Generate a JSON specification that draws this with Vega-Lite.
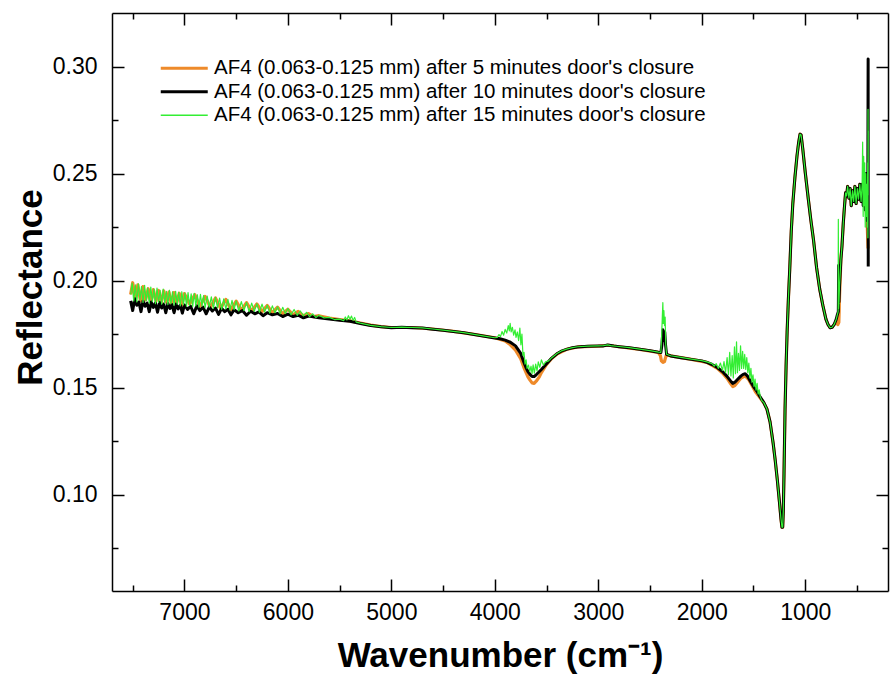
{
"$schema":"https://vega.github.io/schema/vega-lite/v6.json",
"width":776,"height":578,
"autosize":{"type":"none"},
"padding":{"left":112,"top":13,"right":2,"bottom":85},
"background":"white",
"config":{"font":"Liberation Sans","view":{"stroke":null},
"axis":{"grid":false,"domainColor":"black","domainWidth":1.5,"tickColor":"black","tickWidth":1.5,"labelFont":"Liberation Sans","labelFontSize":23,"labelColor":"black","titleFont":"Liberation Sans","titleFontSize":35,"titleFontWeight":"bold","titleColor":"black"}},
"data":{"values":[
{"s":"o","w":7520,"r":0.1935},{"s":"o","w":7500,"r":0.1990},{"s":"o","w":7475,"r":0.1915},{"s":"o","w":7450,"r":0.1980},{"s":"o","w":7425,"r":0.1905},{"s":"o","w":7400,"r":0.1972},{"s":"o","w":7375,"r":0.1910},{"s":"o","w":7350,"r":0.1962},{"s":"o","w":7325,"r":0.1900},{"s":"o","w":7300,"r":0.1958},{"s":"o","w":7275,"r":0.1905},{"s":"o","w":7250,"r":0.1954},{"s":"o","w":7225,"r":0.1895},{"s":"o","w":7200,"r":0.1952},{"s":"o","w":7175,"r":0.1900},{"s":"o","w":7150,"r":0.1946},{"s":"o","w":7125,"r":0.1890},{"s":"o","w":7100,"r":0.1944},{"s":"o","w":7075,"r":0.1895},{"s":"o","w":7050,"r":0.1941},{"s":"o","w":7025,"r":0.1885},{"s":"o","w":7000,"r":0.1939},{"s":"o","w":6950,"r":0.1890},{"s":"o","w":6900,"r":0.1934},{"s":"o","w":6850,"r":0.1880},{"s":"o","w":6800,"r":0.1926},{"s":"o","w":6750,"r":0.1875},{"s":"o","w":6700,"r":0.1919},{"s":"o","w":6650,"r":0.1870},{"s":"o","w":6600,"r":0.1912},{"s":"o","w":6550,"r":0.1865},{"s":"o","w":6500,"r":0.1904},{"s":"o","w":6450,"r":0.1862},{"s":"o","w":6400,"r":0.1897},{"s":"o","w":6350,"r":0.1858},{"s":"o","w":6300,"r":0.1891},{"s":"o","w":6250,"r":0.1855},{"s":"o","w":6200,"r":0.1884},{"s":"o","w":6150,"r":0.1850},{"s":"o","w":6100,"r":0.1876},{"s":"o","w":6050,"r":0.1845},{"s":"o","w":6000,"r":0.1866},{"s":"o","w":5950,"r":0.1840},{"s":"o","w":5900,"r":0.1856},{"s":"o","w":5850,"r":0.1836},{"s":"o","w":5800,"r":0.1846},{"s":"o","w":5750,"r":0.1832},{"s":"o","w":5700,"r":0.1836},{"s":"o","w":5600,"r":0.1825},{"s":"o","w":5500,"r":0.1818},{"s":"o","w":5400,"r":0.1812},{"s":"o","w":5300,"r":0.1802},{"s":"o","w":5200,"r":0.1792},{"s":"o","w":5100,"r":0.1785},{"s":"o","w":5000,"r":0.1781},{"s":"o","w":4800,"r":0.1781},{"s":"o","w":4600,"r":0.1774},{"s":"o","w":4400,"r":0.1763},{"s":"o","w":4200,"r":0.1749},{"s":"o","w":4000,"r":0.1733},{"s":"o","w":3900,"r":0.1718},{"s":"o","w":3850,"r":0.1700},{"s":"o","w":3800,"r":0.1675},{"s":"o","w":3750,"r":0.1635},{"s":"o","w":3720,"r":0.1595},{"s":"o","w":3700,"r":0.1572},{"s":"o","w":3680,"r":0.1550},{"s":"o","w":3660,"r":0.1535},{"s":"o","w":3640,"r":0.1522},{"s":"o","w":3620,"r":0.1520},{"s":"o","w":3600,"r":0.1530},{"s":"o","w":3570,"r":0.1550},{"s":"o","w":3550,"r":0.1570},{"s":"o","w":3500,"r":0.1608},{"s":"o","w":3450,"r":0.1636},{"s":"o","w":3400,"r":0.1657},{"s":"o","w":3300,"r":0.1680},{"s":"o","w":3200,"r":0.1690},{"s":"o","w":3000,"r":0.1694},{"s":"o","w":2900,"r":0.1698},{"s":"o","w":2800,"r":0.1691},{"s":"o","w":2600,"r":0.1679},{"s":"o","w":2420,"r":0.1665},{"s":"o","w":2400,"r":0.1650},{"s":"o","w":2390,"r":0.1625},{"s":"o","w":2375,"r":0.1618},{"s":"o","w":2360,"r":0.1622},{"s":"o","w":2350,"r":0.1640},{"s":"o","w":2340,"r":0.1655},{"s":"o","w":2300,"r":0.1648},{"s":"o","w":2100,"r":0.1632},{"s":"o","w":1950,"r":0.1618},{"s":"o","w":1850,"r":0.1590},{"s":"o","w":1800,"r":0.1568},{"s":"o","w":1750,"r":0.1540},{"s":"o","w":1720,"r":0.1518},{"s":"o","w":1700,"r":0.1505},{"s":"o","w":1680,"r":0.1510},{"s":"o","w":1650,"r":0.1528},{"s":"o","w":1620,"r":0.1545},{"s":"o","w":1580,"r":0.1555},{"s":"o","w":1550,"r":0.1540},{"s":"o","w":1520,"r":0.1515},{"s":"o","w":1480,"r":0.1480},{"s":"o","w":1440,"r":0.1455},{"s":"o","w":1400,"r":0.1428},{"s":"o","w":1370,"r":0.1400},{"s":"o","w":1340,"r":0.1340},{"s":"o","w":1310,"r":0.1240},{"s":"o","w":1290,"r":0.1160},{"s":"o","w":1270,"r":0.1070},{"s":"o","w":1250,"r":0.0970},{"s":"o","w":1235,"r":0.0890},{"s":"o","w":1225,"r":0.0848},{"s":"o","w":1218,"r":0.0848},{"s":"o","w":1212,"r":0.0920},{"s":"o","w":1205,"r":0.1100},{"s":"o","w":1195,"r":0.1400},{"s":"o","w":1185,"r":0.1600},{"s":"o","w":1175,"r":0.1760},{"s":"o","w":1163,"r":0.1910},{"s":"o","w":1150,"r":0.2050},{"s":"o","w":1135,"r":0.2230},{"s":"o","w":1120,"r":0.2360},{"s":"o","w":1100,"r":0.2480},{"s":"o","w":1080,"r":0.2580},{"s":"o","w":1065,"r":0.2640},{"s":"o","w":1050,"r":0.2684},{"s":"o","w":1040,"r":0.2680},{"s":"o","w":1025,"r":0.2620},{"s":"o","w":1000,"r":0.2506},{"s":"o","w":970,"r":0.2380},{"s":"o","w":945,"r":0.2280},{"s":"o","w":920,"r":0.2190},{"s":"o","w":890,"r":0.2060},{"s":"o","w":860,"r":0.1960},{"s":"o","w":830,"r":0.1885},{"s":"o","w":800,"r":0.1820},{"s":"o","w":780,"r":0.1795},{"s":"o","w":760,"r":0.1780},{"s":"o","w":740,"r":0.1782},{"s":"o","w":720,"r":0.1795},{"s":"o","w":700,"r":0.1810},{"s":"o","w":685,"r":0.1795},{"s":"o","w":675,"r":0.1805},{"s":"o","w":668,"r":0.1930},{"s":"o","w":655,"r":0.2100},{"s":"o","w":645,"r":0.2160},{"s":"o","w":632,"r":0.2270},{"s":"o","w":620,"r":0.2350},{"s":"o","w":610,"r":0.2410},{"s":"o","w":600,"r":0.2395},{"s":"o","w":590,"r":0.2440},{"s":"o","w":578,"r":0.2385},{"s":"o","w":566,"r":0.2430},{"s":"o","w":555,"r":0.2350},{"s":"o","w":543,"r":0.2420},{"s":"o","w":532,"r":0.2370},{"s":"o","w":520,"r":0.2440},{"s":"o","w":508,"r":0.2360},{"s":"o","w":496,"r":0.2430},{"s":"o","w":485,"r":0.2380},{"s":"o","w":472,"r":0.2450},{"s":"o","w":460,"r":0.2370},{"s":"o","w":450,"r":0.2450},{"s":"o","w":430,"r":0.2400},{"s":"o","w":410,"r":0.2330},{"s":"o","w":400,"r":0.2250},{"s":"o","w":393,"r":0.2150},

{"s":"k","w":7520,"r":0.1905},{"s":"k","w":7500,"r":0.1860},{"s":"k","w":7480,"r":0.1915},{"s":"k","w":7460,"r":0.1885},{"s":"k","w":7440,"r":0.1900},{"s":"k","w":7420,"r":0.1855},{"s":"k","w":7400,"r":0.1905},{"s":"k","w":7380,"r":0.1880},{"s":"k","w":7360,"r":0.1895},{"s":"k","w":7340,"r":0.1855},{"s":"k","w":7320,"r":0.1900},{"s":"k","w":7300,"r":0.1875},{"s":"k","w":7280,"r":0.1895},{"s":"k","w":7260,"r":0.1852},{"s":"k","w":7240,"r":0.1898},{"s":"k","w":7220,"r":0.1872},{"s":"k","w":7200,"r":0.1890},{"s":"k","w":7180,"r":0.1850},{"s":"k","w":7160,"r":0.1893},{"s":"k","w":7140,"r":0.1870},{"s":"k","w":7120,"r":0.1888},{"s":"k","w":7100,"r":0.1850},{"s":"k","w":7080,"r":0.1890},{"s":"k","w":7060,"r":0.1868},{"s":"k","w":7040,"r":0.1885},{"s":"k","w":7020,"r":0.1848},{"s":"k","w":7000,"r":0.1886},{"s":"k","w":6970,"r":0.1865},{"s":"k","w":6940,"r":0.1880},{"s":"k","w":6910,"r":0.1845},{"s":"k","w":6880,"r":0.1882},{"s":"k","w":6850,"r":0.1860},{"s":"k","w":6820,"r":0.1876},{"s":"k","w":6790,"r":0.1845},{"s":"k","w":6760,"r":0.1876},{"s":"k","w":6730,"r":0.1858},{"s":"k","w":6700,"r":0.1872},{"s":"k","w":6670,"r":0.1842},{"s":"k","w":6640,"r":0.1870},{"s":"k","w":6610,"r":0.1855},{"s":"k","w":6580,"r":0.1866},{"s":"k","w":6550,"r":0.1840},{"s":"k","w":6520,"r":0.1864},{"s":"k","w":6480,"r":0.1850},{"s":"k","w":6440,"r":0.1860},{"s":"k","w":6400,"r":0.1838},{"s":"k","w":6360,"r":0.1857},{"s":"k","w":6320,"r":0.1845},{"s":"k","w":6280,"r":0.1854},{"s":"k","w":6240,"r":0.1836},{"s":"k","w":6200,"r":0.1850},{"s":"k","w":6150,"r":0.1840},{"s":"k","w":6100,"r":0.1846},{"s":"k","w":6050,"r":0.1832},{"s":"k","w":6000,"r":0.1843},{"s":"k","w":5950,"r":0.1832},{"s":"k","w":5900,"r":0.1838},{"s":"k","w":5850,"r":0.1826},{"s":"k","w":5800,"r":0.1834},{"s":"k","w":5700,"r":0.1826},{"s":"k","w":5600,"r":0.1820},{"s":"k","w":5500,"r":0.1815},{"s":"k","w":5400,"r":0.1810},{"s":"k","w":5300,"r":0.1800},{"s":"k","w":5200,"r":0.1790},{"s":"k","w":5100,"r":0.1784},{"s":"k","w":5000,"r":0.1780},{"s":"k","w":4900,"r":0.1782},{"s":"k","w":4800,"r":0.1780},{"s":"k","w":4700,"r":0.1778},{"s":"k","w":4600,"r":0.1773},{"s":"k","w":4500,"r":0.1768},{"s":"k","w":4400,"r":0.1762},{"s":"k","w":4300,"r":0.1756},{"s":"k","w":4200,"r":0.1748},{"s":"k","w":4100,"r":0.1740},{"s":"k","w":4000,"r":0.1732},{"s":"k","w":3950,"r":0.1728},{"s":"k","w":3900,"r":0.1722},{"s":"k","w":3850,"r":0.1712},{"s":"k","w":3800,"r":0.1695},{"s":"k","w":3750,"r":0.1660},{"s":"k","w":3720,"r":0.1620},{"s":"k","w":3700,"r":0.1595},{"s":"k","w":3680,"r":0.1575},{"s":"k","w":3660,"r":0.1562},{"s":"k","w":3640,"r":0.1552},{"s":"k","w":3620,"r":0.1552},{"s":"k","w":3600,"r":0.1560},{"s":"k","w":3550,"r":0.1585},{"s":"k","w":3500,"r":0.1612},{"s":"k","w":3450,"r":0.1638},{"s":"k","w":3400,"r":0.1658},{"s":"k","w":3350,"r":0.1672},{"s":"k","w":3300,"r":0.1680},{"s":"k","w":3250,"r":0.1686},{"s":"k","w":3200,"r":0.1690},{"s":"k","w":3100,"r":0.1693},{"s":"k","w":3000,"r":0.1694},{"s":"k","w":2950,"r":0.1695},{"s":"k","w":2910,"r":0.1699},{"s":"k","w":2850,"r":0.1694},{"s":"k","w":2800,"r":0.1691},{"s":"k","w":2700,"r":0.1686},{"s":"k","w":2600,"r":0.1679},{"s":"k","w":2500,"r":0.1672},{"s":"k","w":2420,"r":0.1665},{"s":"k","w":2395,"r":0.1664},{"s":"k","w":2385,"r":0.1700},{"s":"k","w":2375,"r":0.1770},{"s":"k","w":2365,"r":0.1720},{"s":"k","w":2358,"r":0.1760},{"s":"k","w":2350,"r":0.1700},{"s":"k","w":2340,"r":0.1655},{"s":"k","w":2300,"r":0.1648},{"s":"k","w":2200,"r":0.1640},{"s":"k","w":2100,"r":0.1632},{"s":"k","w":2000,"r":0.1625},{"s":"k","w":1950,"r":0.1618},{"s":"k","w":1900,"r":0.1608},{"s":"k","w":1850,"r":0.1594},{"s":"k","w":1800,"r":0.1575},{"s":"k","w":1760,"r":0.1555},{"s":"k","w":1720,"r":0.1530},{"s":"k","w":1700,"r":0.1520},{"s":"k","w":1680,"r":0.1525},{"s":"k","w":1650,"r":0.1540},{"s":"k","w":1620,"r":0.1555},{"s":"k","w":1600,"r":0.1562},{"s":"k","w":1580,"r":0.1565},{"s":"k","w":1560,"r":0.1555},{"s":"k","w":1530,"r":0.1530},{"s":"k","w":1500,"r":0.1505},{"s":"k","w":1470,"r":0.1485},{"s":"k","w":1440,"r":0.1460},{"s":"k","w":1400,"r":0.1430},{"s":"k","w":1370,"r":0.1400},{"s":"k","w":1340,"r":0.1340},{"s":"k","w":1310,"r":0.1240},{"s":"k","w":1290,"r":0.1160},{"s":"k","w":1270,"r":0.1070},{"s":"k","w":1250,"r":0.0970},{"s":"k","w":1235,"r":0.0890},{"s":"k","w":1225,"r":0.0848},{"s":"k","w":1218,"r":0.0848},{"s":"k","w":1212,"r":0.0920},{"s":"k","w":1205,"r":0.1100},{"s":"k","w":1195,"r":0.1400},{"s":"k","w":1185,"r":0.1600},{"s":"k","w":1175,"r":0.1760},{"s":"k","w":1163,"r":0.1910},{"s":"k","w":1150,"r":0.2050},{"s":"k","w":1135,"r":0.2230},{"s":"k","w":1120,"r":0.2360},{"s":"k","w":1100,"r":0.2480},{"s":"k","w":1080,"r":0.2580},{"s":"k","w":1065,"r":0.2640},{"s":"k","w":1050,"r":0.2684},{"s":"k","w":1040,"r":0.2680},{"s":"k","w":1025,"r":0.2620},{"s":"k","w":1000,"r":0.2506},{"s":"k","w":970,"r":0.2380},{"s":"k","w":945,"r":0.2280},{"s":"k","w":920,"r":0.2190},{"s":"k","w":890,"r":0.2060},{"s":"k","w":860,"r":0.1960},{"s":"k","w":830,"r":0.1885},{"s":"k","w":800,"r":0.1820},{"s":"k","w":780,"r":0.1795},{"s":"k","w":760,"r":0.1780},{"s":"k","w":740,"r":0.1782},{"s":"k","w":720,"r":0.1795},{"s":"k","w":700,"r":0.1820},{"s":"k","w":690,"r":0.1840},{"s":"k","w":680,"r":0.1855},{"s":"k","w":677,"r":0.2070},{"s":"k","w":674,"r":0.1900},{"s":"k","w":668,"r":0.1980},{"s":"k","w":655,"r":0.2100},{"s":"k","w":645,"r":0.2160},{"s":"k","w":632,"r":0.2270},{"s":"k","w":620,"r":0.2350},{"s":"k","w":610,"r":0.2410},{"s":"k","w":600,"r":0.2395},{"s":"k","w":590,"r":0.2440},{"s":"k","w":578,"r":0.2385},{"s":"k","w":566,"r":0.2430},{"s":"k","w":555,"r":0.2350},{"s":"k","w":543,"r":0.2420},{"s":"k","w":532,"r":0.2370},{"s":"k","w":520,"r":0.2440},{"s":"k","w":508,"r":0.2360},{"s":"k","w":496,"r":0.2430},{"s":"k","w":485,"r":0.2380},{"s":"k","w":472,"r":0.2450},{"s":"k","w":460,"r":0.2370},{"s":"k","w":450,"r":0.2450},{"s":"k","w":440,"r":0.2350},{"s":"k","w":430,"r":0.2480},{"s":"k","w":420,"r":0.2330},{"s":"k","w":410,"r":0.2500},{"s":"k","w":400,"r":0.2280},{"s":"k","w":395,"r":0.2420},{"s":"k","w":392,"r":0.3035},{"s":"k","w":391,"r":0.2066},

{"s":"g","w":7520,"r":0.1935},{"s":"g","w":7505,"r":0.1988},{"s":"g","w":7490,"r":0.1905},{"s":"g","w":7475,"r":0.1980},{"s":"g","w":7460,"r":0.1900},{"s":"g","w":7445,"r":0.1985},{"s":"g","w":7430,"r":0.1910},{"s":"g","w":7415,"r":0.1972},{"s":"g","w":7400,"r":0.1898},{"s":"g","w":7385,"r":0.1978},{"s":"g","w":7370,"r":0.1905},{"s":"g","w":7355,"r":0.1965},{"s":"g","w":7340,"r":0.1895},{"s":"g","w":7325,"r":0.1970},{"s":"g","w":7310,"r":0.1902},{"s":"g","w":7295,"r":0.1960},{"s":"g","w":7280,"r":0.1892},{"s":"g","w":7265,"r":0.1965},{"s":"g","w":7250,"r":0.1898},{"s":"g","w":7235,"r":0.1955},{"s":"g","w":7220,"r":0.1890},{"s":"g","w":7205,"r":0.1960},{"s":"g","w":7190,"r":0.1895},{"s":"g","w":7175,"r":0.1950},{"s":"g","w":7160,"r":0.1888},{"s":"g","w":7145,"r":0.1955},{"s":"g","w":7130,"r":0.1892},{"s":"g","w":7115,"r":0.1948},{"s":"g","w":7100,"r":0.1885},{"s":"g","w":7085,"r":0.1950},{"s":"g","w":7070,"r":0.1890},{"s":"g","w":7055,"r":0.1945},{"s":"g","w":7040,"r":0.1882},{"s":"g","w":7025,"r":0.1948},{"s":"g","w":7010,"r":0.1886},{"s":"g","w":6995,"r":0.1942},{"s":"g","w":6980,"r":0.1880},{"s":"g","w":6965,"r":0.1944},{"s":"g","w":6950,"r":0.1884},{"s":"g","w":6935,"r":0.1938},{"s":"g","w":6920,"r":0.1878},{"s":"g","w":6905,"r":0.1940},{"s":"g","w":6890,"r":0.1882},{"s":"g","w":6875,"r":0.1934},{"s":"g","w":6860,"r":0.1876},{"s":"g","w":6845,"r":0.1936},{"s":"g","w":6830,"r":0.1880},{"s":"g","w":6815,"r":0.1930},{"s":"g","w":6800,"r":0.1874},{"s":"g","w":6780,"r":0.1928},{"s":"g","w":6760,"r":0.1876},{"s":"g","w":6740,"r":0.1924},{"s":"g","w":6720,"r":0.1870},{"s":"g","w":6700,"r":0.1922},{"s":"g","w":6680,"r":0.1872},{"s":"g","w":6660,"r":0.1918},{"s":"g","w":6640,"r":0.1866},{"s":"g","w":6620,"r":0.1915},{"s":"g","w":6600,"r":0.1868},{"s":"g","w":6580,"r":0.1912},{"s":"g","w":6560,"r":0.1862},{"s":"g","w":6540,"r":0.1908},{"s":"g","w":6520,"r":0.1864},{"s":"g","w":6500,"r":0.1905},{"s":"g","w":6475,"r":0.1858},{"s":"g","w":6450,"r":0.1902},{"s":"g","w":6425,"r":0.1860},{"s":"g","w":6400,"r":0.1898},{"s":"g","w":6375,"r":0.1855},{"s":"g","w":6350,"r":0.1895},{"s":"g","w":6325,"r":0.1856},{"s":"g","w":6300,"r":0.1892},{"s":"g","w":6275,"r":0.1852},{"s":"g","w":6250,"r":0.1890},{"s":"g","w":6225,"r":0.1853},{"s":"g","w":6200,"r":0.1885},{"s":"g","w":6175,"r":0.1848},{"s":"g","w":6150,"r":0.1882},{"s":"g","w":6125,"r":0.1850},{"s":"g","w":6100,"r":0.1878},{"s":"g","w":6075,"r":0.1845},{"s":"g","w":6050,"r":0.1875},{"s":"g","w":6025,"r":0.1846},{"s":"g","w":6000,"r":0.1870},{"s":"g","w":5970,"r":0.1840},{"s":"g","w":5940,"r":0.1865},{"s":"g","w":5910,"r":0.1838},{"s":"g","w":5880,"r":0.1858},{"s":"g","w":5850,"r":0.1835},{"s":"g","w":5820,"r":0.1852},{"s":"g","w":5790,"r":0.1832},{"s":"g","w":5760,"r":0.1845},{"s":"g","w":5730,"r":0.1828},{"s":"g","w":5700,"r":0.1838},{"s":"g","w":5650,"r":0.1826},{"s":"g","w":5600,"r":0.1828},{"s":"g","w":5550,"r":0.1818},{"s":"g","w":5500,"r":0.1820},{"s":"g","w":5460,"r":0.1813},{"s":"g","w":5445,"r":0.1830},{"s":"g","w":5430,"r":0.1816},{"s":"g","w":5415,"r":0.1836},{"s":"g","w":5400,"r":0.1820},{"s":"g","w":5385,"r":0.1834},{"s":"g","w":5370,"r":0.1814},{"s":"g","w":5355,"r":0.1828},{"s":"g","w":5340,"r":0.1806},{"s":"g","w":5300,"r":0.1801},{"s":"g","w":5200,"r":0.1791},{"s":"g","w":5100,"r":0.1785},{"s":"g","w":5000,"r":0.1781},{"s":"g","w":4900,"r":0.1783},{"s":"g","w":4800,"r":0.1781},{"s":"g","w":4700,"r":0.1779},{"s":"g","w":4600,"r":0.1774},{"s":"g","w":4500,"r":0.1769},{"s":"g","w":4400,"r":0.1763},{"s":"g","w":4300,"r":0.1757},{"s":"g","w":4200,"r":0.1749},{"s":"g","w":4100,"r":0.1741},{"s":"g","w":4000,"r":0.1733},{"s":"g","w":3975,"r":0.1735},{"s":"g","w":3960,"r":0.1748},{"s":"g","w":3945,"r":0.1738},{"s":"g","w":3930,"r":0.1762},{"s":"g","w":3915,"r":0.1745},{"s":"g","w":3900,"r":0.1772},{"s":"g","w":3885,"r":0.1755},{"s":"g","w":3870,"r":0.1790},{"s":"g","w":3860,"r":0.1765},{"s":"g","w":3852,"r":0.1800},{"s":"g","w":3842,"r":0.1760},{"s":"g","w":3830,"r":0.1782},{"s":"g","w":3818,"r":0.1745},{"s":"g","w":3805,"r":0.1770},{"s":"g","w":3795,"r":0.1735},{"s":"g","w":3782,"r":0.1760},{"s":"g","w":3770,"r":0.1720},{"s":"g","w":3758,"r":0.1778},{"s":"g","w":3748,"r":0.1700},{"s":"g","w":3738,"r":0.1750},{"s":"g","w":3728,"r":0.1650},{"s":"g","w":3718,"r":0.1665},{"s":"g","w":3708,"r":0.1610},{"s":"g","w":3698,"r":0.1630},{"s":"g","w":3688,"r":0.1590},{"s":"g","w":3675,"r":0.1605},{"s":"g","w":3662,"r":0.1575},{"s":"g","w":3650,"r":0.1600},{"s":"g","w":3640,"r":0.1565},{"s":"g","w":3630,"r":0.1606},{"s":"g","w":3618,"r":0.1568},{"s":"g","w":3605,"r":0.1610},{"s":"g","w":3592,"r":0.1578},{"s":"g","w":3580,"r":0.1620},{"s":"g","w":3565,"r":0.1595},{"s":"g","w":3550,"r":0.1630},{"s":"g","w":3530,"r":0.1605},{"s":"g","w":3510,"r":0.1620},{"s":"g","w":3480,"r":0.1625},{"s":"g","w":3450,"r":0.1640},{"s":"g","w":3400,"r":0.1659},{"s":"g","w":3350,"r":0.1673},{"s":"g","w":3300,"r":0.1681},{"s":"g","w":3250,"r":0.1687},{"s":"g","w":3200,"r":0.1691},{"s":"g","w":3100,"r":0.1694},{"s":"g","w":3000,"r":0.1695},{"s":"g","w":2950,"r":0.1696},{"s":"g","w":2910,"r":0.1700},{"s":"g","w":2880,"r":0.1696},{"s":"g","w":2800,"r":0.1692},{"s":"g","w":2700,"r":0.1687},{"s":"g","w":2600,"r":0.1680},{"s":"g","w":2500,"r":0.1673},{"s":"g","w":2420,"r":0.1666},{"s":"g","w":2395,"r":0.1665},{"s":"g","w":2388,"r":0.1740},{"s":"g","w":2382,"r":0.1820},{"s":"g","w":2376,"r":0.1897},{"s":"g","w":2372,"r":0.1800},{"s":"g","w":2366,"r":0.1860},{"s":"g","w":2360,"r":0.1790},{"s":"g","w":2354,"r":0.1830},{"s":"g","w":2348,"r":0.1700},{"s":"g","w":2340,"r":0.1656},{"s":"g","w":2300,"r":0.1649},{"s":"g","w":2200,"r":0.1641},{"s":"g","w":2100,"r":0.1633},{"s":"g","w":2000,"r":0.1626},{"s":"g","w":1950,"r":0.1620},{"s":"g","w":1900,"r":0.1612},{"s":"g","w":1880,"r":0.1600},{"s":"g","w":1860,"r":0.1612},{"s":"g","w":1840,"r":0.1590},{"s":"g","w":1820,"r":0.1615},{"s":"g","w":1800,"r":0.1580},{"s":"g","w":1785,"r":0.1622},{"s":"g","w":1770,"r":0.1570},{"s":"g","w":1755,"r":0.1640},{"s":"g","w":1742,"r":0.1560},{"s":"g","w":1730,"r":0.1665},{"s":"g","w":1718,"r":0.1555},{"s":"g","w":1706,"r":0.1650},{"s":"g","w":1695,"r":0.1545},{"s":"g","w":1684,"r":0.1690},{"s":"g","w":1674,"r":0.1565},{"s":"g","w":1664,"r":0.1714},{"s":"g","w":1655,"r":0.1570},{"s":"g","w":1645,"r":0.1660},{"s":"g","w":1635,"r":0.1580},{"s":"g","w":1625,"r":0.1695},{"s":"g","w":1615,"r":0.1590},{"s":"g","w":1605,"r":0.1670},{"s":"g","w":1595,"r":0.1590},{"s":"g","w":1585,"r":0.1655},{"s":"g","w":1575,"r":0.1585},{"s":"g","w":1565,"r":0.1640},{"s":"g","w":1555,"r":0.1570},{"s":"g","w":1545,"r":0.1615},{"s":"g","w":1535,"r":0.1545},{"s":"g","w":1525,"r":0.1590},{"s":"g","w":1515,"r":0.1525},{"s":"g","w":1505,"r":0.1560},{"s":"g","w":1495,"r":0.1505},{"s":"g","w":1485,"r":0.1540},{"s":"g","w":1475,"r":0.1488},{"s":"g","w":1465,"r":0.1520},{"s":"g","w":1455,"r":0.1470},{"s":"g","w":1445,"r":0.1490},{"s":"g","w":1435,"r":0.1458},{"s":"g","w":1420,"r":0.1440},{"s":"g","w":1400,"r":0.1430},{"s":"g","w":1370,"r":0.1400},{"s":"g","w":1340,"r":0.1340},{"s":"g","w":1310,"r":0.1240},{"s":"g","w":1290,"r":0.1160},{"s":"g","w":1270,"r":0.1070},{"s":"g","w":1250,"r":0.0970},{"s":"g","w":1235,"r":0.0890},{"s":"g","w":1225,"r":0.0848},{"s":"g","w":1218,"r":0.0848},{"s":"g","w":1212,"r":0.0920},{"s":"g","w":1205,"r":0.1100},{"s":"g","w":1195,"r":0.1400},{"s":"g","w":1185,"r":0.1600},{"s":"g","w":1175,"r":0.1760},{"s":"g","w":1163,"r":0.1910},{"s":"g","w":1150,"r":0.2050},{"s":"g","w":1135,"r":0.2230},{"s":"g","w":1120,"r":0.2360},{"s":"g","w":1100,"r":0.2480},{"s":"g","w":1080,"r":0.2580},{"s":"g","w":1065,"r":0.2640},{"s":"g","w":1050,"r":0.2684},{"s":"g","w":1040,"r":0.2680},{"s":"g","w":1025,"r":0.2620},{"s":"g","w":1000,"r":0.2506},{"s":"g","w":970,"r":0.2380},{"s":"g","w":945,"r":0.2280},{"s":"g","w":920,"r":0.2190},{"s":"g","w":890,"r":0.2060},{"s":"g","w":860,"r":0.1960},{"s":"g","w":830,"r":0.1885},{"s":"g","w":800,"r":0.1820},{"s":"g","w":780,"r":0.1795},{"s":"g","w":760,"r":0.1780},{"s":"g","w":740,"r":0.1782},{"s":"g","w":720,"r":0.1795},{"s":"g","w":700,"r":0.1820},{"s":"g","w":690,"r":0.1840},{"s":"g","w":682,"r":0.1855},{"s":"g","w":680,"r":0.2286},{"s":"g","w":678,"r":0.1870},{"s":"g","w":674,"r":0.1900},{"s":"g","w":668,"r":0.1980},{"s":"g","w":655,"r":0.2100},{"s":"g","w":645,"r":0.2160},{"s":"g","w":632,"r":0.2270},{"s":"g","w":620,"r":0.2350},{"s":"g","w":610,"r":0.2410},{"s":"g","w":600,"r":0.2395},{"s":"g","w":590,"r":0.2440},{"s":"g","w":578,"r":0.2385},{"s":"g","w":566,"r":0.2430},{"s":"g","w":555,"r":0.2350},{"s":"g","w":543,"r":0.2420},{"s":"g","w":532,"r":0.2370},{"s":"g","w":520,"r":0.2440},{"s":"g","w":508,"r":0.2360},{"s":"g","w":496,"r":0.2430},{"s":"g","w":485,"r":0.2380},{"s":"g","w":472,"r":0.2450},{"s":"g","w":460,"r":0.2370},{"s":"g","w":450,"r":0.2450},{"s":"g","w":445,"r":0.2647},{"s":"g","w":440,"r":0.2300},{"s":"g","w":435,"r":0.2580},{"s":"g","w":430,"r":0.2350},{"s":"g","w":425,"r":0.2550},{"s":"g","w":420,"r":0.2250},{"s":"g","w":415,"r":0.2500},{"s":"g","w":410,"r":0.2300},{"s":"g","w":405,"r":0.2450},{"s":"g","w":400,"r":0.2250},{"s":"g","w":396,"r":0.2550},{"s":"g","w":394,"r":0.2200},{"s":"g","w":393,"r":0.2800},{"s":"g","w":392,"r":0.2400},{"s":"g","w":391,"r":0.2700}
]},
"layer":[
{"transform":[{"filter":"datum.s == 'o'"}],
 "mark":{"type":"line","strokeJoin":"round","strokeWidth":3.2},
 "encoding":{
  "x":{"field":"w","type":"quantitative","scale":{"domain":[200,7700],"reverse":true,"nice":false,"zero":false},
   "axis":{"orient":"bottom","values":[7500,7000,6500,6000,5500,5000,4500,4000,3500,3000,2500,2000,1500,1000,500],
    "labelExpr":"datum.value % 1000 == 0 ? '' + datum.value : ''",
    "tickSize":{"condition":{"test":"datum.value % 1000 == 0","value":-12},"value":-6},
    "labelPadding":22,"labelOverlap":false,"title":"Wavenumber (cm⁻¹)","titlePadding":8}},
  "y":{"field":"r","type":"quantitative","scale":{"domain":[0.055,0.325],"nice":false,"zero":false},
   "axis":{"orient":"left","values":[0.075,0.1,0.125,0.15,0.175,0.2,0.225,0.25,0.275,0.3],
    "labelExpr":"abs(datum.value*20 - round(datum.value*20)) < 0.001 ? format(datum.value, '.2f') : ''",
    "tickSize":{"condition":{"test":"abs(datum.value*20 - round(datum.value*20)) < 0.001","value":-12},"value":-6},
    "labelPadding":27,"labelOverlap":false,"title":"Reflectance","titlePadding":4,"titleY":274}},
  "order":{"field":"w","type":"quantitative","sort":"descending"},
  "color":{"field":"s","type":"nominal","scale":{"domain":["o","k","g"],"range":["#EE8A2A","#000000","#33EE33"]},
   "legend":{"orient":"none","legendX":62,"legendY":45,"title":null,"padding":0,"symbolType":"M-4.7,0H4.7","symbolSize":100,"symbolStrokeWidth":3,
    "labelFont":"Liberation Sans","labelFontSize":20.5,"labelColor":"black","labelOffset":19.5,"rowPadding":2.5,"labelLimit":700,
    "encode":{"symbols":{"update":{"strokeWidth":{"signal":"datum.value === 'g' ? 1.6 : 3"}}}},
    "labelExpr":"datum.value == 'o' ? \"AF4 (0.063-0.125 mm) after 5 minutes door's closure\" : datum.value == 'k' ? \"AF4 (0.063-0.125 mm) after 10 minutes door's closure\" : \"AF4 (0.063-0.125 mm) after 15 minutes door's closure\""}}
 }},
{"transform":[{"filter":"datum.s == 'k'"}],
 "mark":{"type":"line","strokeJoin":"round","strokeWidth":3},
 "encoding":{
  "x":{"field":"w","type":"quantitative","axis":null},
  "y":{"field":"r","type":"quantitative","axis":null},
  "order":{"field":"w","type":"quantitative","sort":"descending"},
  "color":{"field":"s","type":"nominal"}
 }},
{"transform":[{"filter":"datum.s == 'g'"}],
 "mark":{"type":"line","strokeJoin":"round","strokeWidth":1.2},
 "encoding":{
  "x":{"field":"w","type":"quantitative","axis":null},
  "y":{"field":"r","type":"quantitative","axis":null},
  "order":{"field":"w","type":"quantitative","sort":"descending"},
  "color":{"field":"s","type":"nominal"}
 }},
{"transform":[{"filter":"datum.s == 'k'"}],
 "mark":{"type":"point","opacity":0},
 "encoding":{
  "x":{"field":"w","type":"quantitative","axis":{"orient":"top","labels":false,"title":null,"values":[7500,7000,6500,6000,5500,5000,4500,4000,3500,3000,2500,2000,1500,1000,500],
    "tickSize":{"condition":{"test":"datum.value % 1000 == 0","value":-12},"value":-6}}},
  "y":{"field":"r","type":"quantitative","axis":{"orient":"right","labels":false,"title":null,"values":[0.075,0.1,0.125,0.15,0.175,0.2,0.225,0.25,0.275,0.3],
    "tickSize":{"condition":{"test":"abs(datum.value*20 - round(datum.value*20)) < 0.001","value":-12},"value":-6}}}
 }}
],
"resolve":{"axis":{"x":"independent","y":"independent"}}
}
